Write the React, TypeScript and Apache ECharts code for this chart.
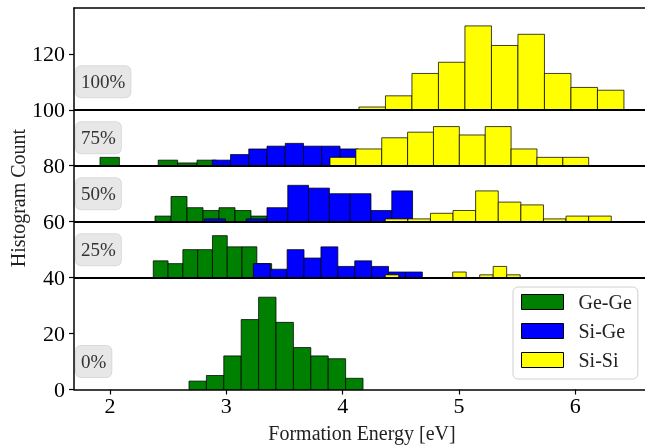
import React, { useEffect, useRef } from "react";
import * as echarts from "echarts";

// ---------- data ----------
const LEVELS = [0, 40, 60, 80, 100];
const LEVEL_LABELS = ["0%", "25%", "50%", "75%", "100%"];
const SERIES_NAMES = ["Ge-Ge", "Si-Ge", "Si-Si"];
const X_TICKS = [2, 3, 4, 5, 6];
const Y_TICKS = [0, 20, 40, 60, 80, 100, 120];

// Ge-Ge histograms (bin start [eV], bin width [eV], counts)
const GEGE_0 = { lo: 2.679, w: 0.1496, counts: [3, 5, 12, 25, 33, 24, 15, 12, 11, 4] };
const GEGE_25 = { lo: 2.372, w: 0.1272, counts: [6, 5, 10, 10, 15, 11, 11, 5] };
const GEGE_50 = { lo: 2.387, w: 0.1375, counts: [2, 9, 5, 4, 5, 4, 2] };
const GEGE_75 = { lo: 1.914, w: 0.1668, counts: [3, 0, 0, 2, 1, 2] };

// Si-Ge histograms
const SIGE_25 = { lo: 3.232, w: 0.1453, counts: [5, 3, 10, 7, 11, 4, 6, 4, 2, 2] };
const SIGE_50 = { lo: 2.813, w: 0.1788, counts: [1, 0, 1, 5, 13, 12, 10, 10, 4, 11] };
const SIGE_75 = { lo: 2.879, w: 0.1569, counts: [2, 4, 6, 7, 8, 7, 7, 6] };

// Si-Si histograms
const SISI_25 = { lo: 4.366, w: 0.116, counts: [1, 0, 0, 0, 0, 2, 0, 1, 4, 1] };
const SISI_50 = { lo: 4.366, w: 0.1943, counts: [1, 1, 3, 4, 11, 7, 6, 1, 2, 2] };
const SISI_75 = { lo: 3.891, w: 0.2224, counts: [3, 6, 10, 12, 14, 11, 14, 6, 3, 3] };
const SISI_100 = { lo: 4.14, w: 0.2278, counts: [1, 5, 13, 17, 30, 23, 27, 13, 8, 7] };

// ---------- layout / style ----------
const X_MIN = 1.6905;
const X_MAX = 6.599;
const Y_MIN = 0;
const Y_MAX = 136.4;
const FONT = "Liberation Serif";
const COLORS = ["#008000", "#0000ff", "#ffff00"];

type Hist = { lo: number; w: number; counts: number[] };

function buildData(hists: [Hist, number][]) {
  const out: number[][] = [];
  hists.forEach(([h, base]) => {
    h.counts.forEach((c, i) => {
      if (c > 0) out.push([h.lo + i * h.w, h.lo + (i + 1) * h.w, base, base + c]);
    });
  });
  return out;
}

function histSeries(name: string, color: string, hists: [Hist, number][], extra: any = {}) {
  return {
    type: "custom",
    name,
    data: buildData(hists),
    encode: { x: [0, 1], y: [2, 3] },
    itemStyle: { color, borderColor: "#000", borderWidth: 1 },
    renderItem: (params: any, api: any) => {
      const p0 = api.coord([api.value(0), api.value(3)]);
      const p1 = api.coord([api.value(1), api.value(2)]);
      return {
        type: "rect",
        shape: { x: p0[0], y: p0[1], width: p1[0] - p0[0], height: p1[1] - p0[1] },
        style: { fill: color, stroke: "rgba(0,0,0,0.75)", lineWidth: 1 },
      };
    },
    ...extra,
  };
}

export default function App() {
  const ref = useRef<HTMLDivElement>(null);
  useEffect(() => {
    if (!ref.current) return;
    const chart = echarts.init(ref.current, null, { renderer: "svg" });
    const option: any = {
      animation: false,
      grid: { left: 74, right: 0, top: 8, bottom: 56.5, containLabel: false },
      xAxis: [
        {
          type: "value",
          min: X_MIN,
          max: X_MAX,
          axisLine: { show: true, lineStyle: { color: "#000", width: 1.5 } },
          axisTick: { show: true, inside: false, length: 5, lineStyle: { color: "#000", width: 1.2 }, customValues: X_TICKS },
          axisLabel: { show: true, customValues: X_TICKS, margin: 5, fontFamily: FONT, fontSize: 22, color: "#000" },
          splitLine: { show: false },
        },
        {
          type: "value",
          position: "top",
          min: X_MIN,
          max: X_MAX,
          axisLine: { show: true, onZero: false, lineStyle: { color: "#000", width: 1.5 } },
          axisTick: { show: false },
          axisLabel: { show: false },
          splitLine: { show: false },
        },
      ],
      yAxis: {
        type: "value",
        min: Y_MIN,
        max: Y_MAX,
        axisLine: { show: true, lineStyle: { color: "#000", width: 1.5 } },
        axisTick: { show: true, inside: false, length: 5, lineStyle: { color: "#000", width: 1.2 }, customValues: Y_TICKS },
        axisLabel: { show: true, customValues: Y_TICKS, margin: 9, fontFamily: FONT, fontSize: 22, color: "#000" },
        splitLine: { show: false },
      },
      legend: {
        data: SERIES_NAMES,
        orient: "vertical",
        left: 513,
        top: 287,
        icon: "rect",
        itemWidth: 42,
        itemHeight: 15,
        itemGap: 9,
        padding: [5, 6, 9, 8],
        backgroundColor: "rgba(255,255,255,0.8)",
        borderColor: "#d0d0d0",
        borderWidth: 1,
        borderRadius: 5,
        itemStyle: { borderColor: "#000", borderWidth: 1 },
        textStyle: { fontFamily: FONT, fontSize: 20, lineHeight: 20, color: "#222", padding: [0, 0, 0, 10] },
        selectedMode: false,
      },
      graphic: [
        {
          type: "text",
          x: 18,
          y: 198,
          rotation: Math.PI / 2,
          style: { text: "Histogram Count", fontFamily: FONT, fontSize: 20, fill: "#222", align: "center", verticalAlign: "middle" },
        },
        {
          type: "text",
          x: 362,
          y: 433,
          style: { text: "Formation Energy [eV]", fontFamily: FONT, fontSize: 20, fill: "#222", align: "center", verticalAlign: "middle" },
        },
      ],
      series: [
        histSeries(SERIES_NAMES[0], COLORS[0], [
          [GEGE_0, LEVELS[0]],
          [GEGE_25, LEVELS[1]],
          [GEGE_50, LEVELS[2]],
          [GEGE_75, LEVELS[3]],
        ]),
        histSeries(SERIES_NAMES[1], COLORS[1], [
          [SIGE_25, LEVELS[1]],
          [SIGE_50, LEVELS[2]],
          [SIGE_75, LEVELS[3]],
        ]),
        histSeries(
          SERIES_NAMES[2],
          COLORS[2],
          [
            [SISI_25, LEVELS[1]],
            [SISI_50, LEVELS[2]],
            [SISI_75, LEVELS[3]],
            [SISI_100, LEVELS[4]],
          ],
          {
            markLine: {
              silent: true,
              symbol: ["none", "none"],
              label: { show: false },
              lineStyle: { color: "#000", width: 2, type: "solid" },
              emphasis: { disabled: true },
              data: LEVELS.slice(1).map((v) => ({ yAxis: v })),
            },
          }
        ),
        {
          type: "custom",
          name: "labels",
          data: LEVELS.map((b, i) => [b, i]),
          encode: { x: -1, y: 0 },
          z: 10,
          renderItem: (params: any, api: any) => {
            const p = api.coord([X_MIN, api.value(0) + 10]);
            return {
              type: "text",
              x: p[0] + 2,
              y: p[1],
              style: {
                text: LEVEL_LABELS[params.dataIndex],
                fontFamily: FONT,
                fontSize: 19,
                fill: "#333",
                backgroundColor: "#e7e7e7",
                borderColor: "#dadada",
                borderWidth: 1,
                borderRadius: 5,
                padding: [6, 5, 6, 5],
                align: "left",
                verticalAlign: "middle",
              },
            };
          },
        },
      ],
    };
    chart.setOption(option);
    return () => chart.dispose();
  }, []);
  return <div ref={ref} style={{ position: "fixed", left: 0, top: 0, width: 645, height: 446 }} />;
}
